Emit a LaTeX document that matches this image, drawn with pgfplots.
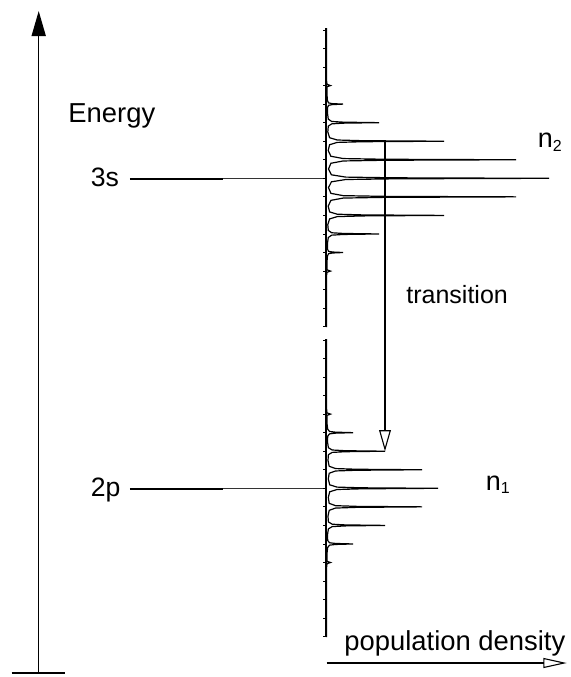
\documentclass[border=0pt]{standalone}
\usepackage{pgfplots}
\pgfplotsset{compat=1.18}
\usepackage{fontspec}
\setmainfont{Liberation Sans}
\usetikzlibrary{arrows.meta}
\begin{document}
\begin{tikzpicture}
\begin{axis}[scale only axis, width=285pt, height=338.5pt,
  xmin=0, xmax=570, ymin=0, ymax=677, y dir=reverse,
  hide axis, clip=false]
% energy axis
\addplot[line width=0.8pt, -{Triangle[length=12.5pt,width=7pt]}] coordinates {(38.7,673) (38.7,11)};
\addplot[line width=0.6pt] coordinates {(11.7,673) (65,673)};
% levels
\addplot[line width=0.85pt] coordinates {(130,178.7) (223,178.7)};
\addplot[line width=0.45pt, black!80] coordinates {(223,178.7) (326,178.7)};
\addplot[line width=0.85pt] coordinates {(130,488.7) (223,488.7)};
\addplot[line width=0.45pt, black!80] coordinates {(223,488.7) (326,488.7)};
% distribution axes
\addplot[line width=0.75pt] coordinates {(326,28) (326,327)};
\addplot[line width=0.75pt] coordinates {(326,339) (326,637)};
\addplot[only marks, mark=-, mark size=0.7pt, mark options={line width=0.4pt}] coordinates {
(324.6,29.9) (324.6,48.45) (324.6,67) (324.6,85.55) (324.6,104.1) (324.6,122.65) (324.6,141.2) (324.6,159.75) (324.6,178.3) (324.6,196.85) (324.6,215.4) (324.6,233.95) (324.6,252.5) (324.6,271.05) (324.6,289.6) (324.6,308.15) (324.6,326.7)
(324.6,339.9) (324.6,358.45) (324.6,377) (324.6,395.55) (324.6,414.1) (324.6,432.65) (324.6,451.2) (324.6,469.75) (324.6,488.3) (324.6,506.85) (324.6,525.4) (324.6,543.95) (324.6,562.5) (324.6,581.05) (324.6,599.6) (324.6,618.15) (324.6,636.7)};
% n2 distribution
\addplot[line width=0.6pt, black] coordinates {
(326.5,28) (326.5,80)
(327,84.35) (330.5,85.55) (327,86.75)
(327,94.825)
(327.45,100.6) (328.56,102.9) (332.3,103.6) (343,104.1) (332.3,104.6) (328.56,105.3) (327.45,107.6)
(327.5,113.375)
(328.3,119.15) (331.7,121.45) (343.4,122.15) (379,122.65) (343.4,123.15) (331.7,123.85) (328.3,126.15)
(327.8,131.925)
(329.6,137.7) (337.2,140.0) (363.2,140.7) (444,141.2) (363.2,141.7) (337.2,142.4) (329.6,144.7)
(328.2,150.475)
(330.9,156.25) (343.2,158.55) (385,159.25) (516,159.75) (385,160.25) (343.2,160.95) (330.9,163.25)
(328.5,169.025)
(331.4,174.8) (345.8,177.1) (394.9,177.8) (549,178.3) (394.9,178.8) (345.8,179.5) (331.4,181.8)
(328.5,187.575)
(330.9,193.35) (343.2,195.65) (385,196.35) (516,196.85) (385,197.35) (343.2,198.05) (330.9,200.35)
(328.2,206.125)
(329.6,211.9) (337.2,214.2) (363.2,214.9) (444,215.4) (363.2,215.9) (337.2,216.6) (329.6,218.9)
(327.8,224.675)
(328.3,230.45) (331.7,232.75) (343.4,233.45) (379,233.95) (343.4,234.45) (331.7,235.15) (328.3,237.45)
(327.5,243.225)
(327.45,249.0) (328.56,251.3) (332.3,252.0) (343,252.5) (332.3,253.0) (328.56,253.7) (327.45,256.0)
(327,261.775)
(327,269.85) (330.5,271.05) (327,272.25)
(326.5,276) (326.5,327)};
% n1 distribution
\addplot[line width=0.6pt, black] coordinates {
(326.5,339) (326.5,408)
(327,412.9) (330.5,414.1) (327,415.3)
(327,423.375)
(327.7,429.15) (329.5,431.45) (335.4,432.15) (353,432.65) (335.4,433.15) (329.5,433.85) (327.7,436.15)
(327.5,441.925)
(328.4,447.7) (332.2,450.0) (345.2,450.7) (385,451.2) (345.2,451.7) (332.2,452.4) (328.4,454.7)
(328,460.475)
(329.2,466.25) (335.5,468.55) (356.6,469.25) (422,469.75) (356.6,470.25) (335.5,470.95) (329.2,473.25)
(328.3,479.025)
(329.7,484.8) (337,487.1) (361.6,487.8) (438,488.3) (361.6,488.8) (337,489.5) (329.7,491.8)
(328.3,497.575)
(329.2,503.35) (335.5,505.65) (356.6,506.35) (422,506.85) (356.6,507.35) (335.5,508.05) (329.2,510.35)
(328,516.125)
(328.4,521.9) (332.2,524.2) (345.2,524.9) (385,525.4) (345.2,525.9) (332.2,526.6) (328.4,528.9)
(327.5,534.675)
(327.7,540.45) (329.5,542.75) (335.4,543.45) (353,543.95) (335.4,544.45) (329.5,545.15) (327.7,547.45)
(327,553.225)
(327,561.3) (330.5,562.5) (327,563.7)
(326.5,568) (326.5,637)};
% transition arrow
\addplot[line width=0.55pt, -{Triangle[open,length=10.5pt,width=5.85pt]}] coordinates {(385,141.2) (385,451.2)};
% population density arrow
\addplot[line width=0.55pt, -{Triangle[open,length=11.7pt,width=5pt]}] coordinates {(326.7,663) (566.7,663)};
% texts
\node[anchor=base west, inner sep=0, font=\fontsize{13.7}{16}\selectfont] at (axis cs:68,122.7) {Energy};
\node[anchor=base west, inner sep=0, font=\fontsize{13.3}{16}\selectfont] at (axis cs:90.5,186) {3s};
\node[anchor=base west, inner sep=0, font=\fontsize{13.3}{16}\selectfont] at (axis cs:90.5,496) {2p};
\node[anchor=base west, inner sep=0, font=\fontsize{12.5}{15}\selectfont] at (axis cs:406,303.3) {transition};
\node[anchor=base west, inner sep=0, font=\fontsize{13.7}{16}\selectfont] at (axis cs:344,650) {population density};
\node[anchor=base west, inner sep=0, font=\fontsize{13.5}{16}\selectfont] at (axis cs:537.5,147.3) {n\raisebox{-2.2pt}{\fontsize{8}{8}\selectfont 2}};
\node[anchor=base west, inner sep=0, font=\fontsize{13.5}{16}\selectfont] at (axis cs:485.5,490) {n\raisebox{-1.7pt}{\fontsize{8}{8}\selectfont 1}};
\end{axis}
\pgfresetboundingbox
\useasboundingbox (current axis.south west) rectangle (current axis.north east);
\end{tikzpicture}
\end{document}
